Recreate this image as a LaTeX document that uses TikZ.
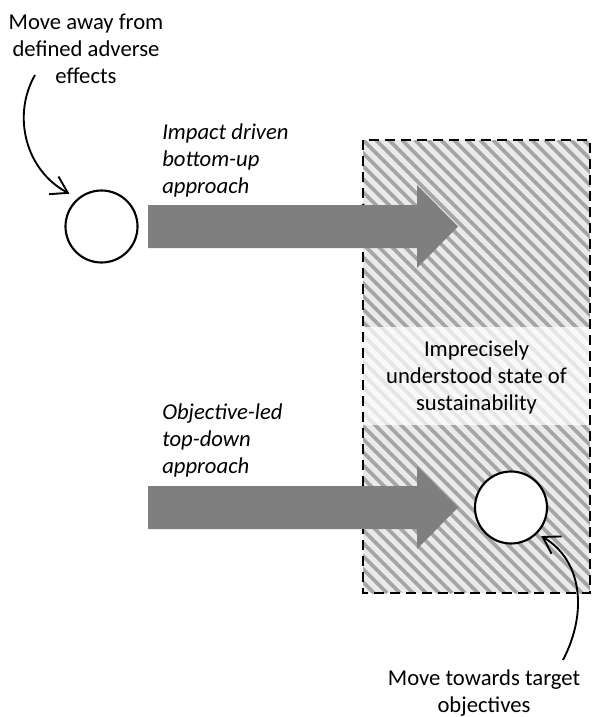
\documentclass[tikz,border=0pt]{standalone}
\usepackage{fontspec}
\setmainfont{Carlito}
\usetikzlibrary{arrows.meta}
\definecolor{arrowgray}{HTML}{7F7F7F}
\definecolor{hatchbg}{HTML}{EAEAEA}
\definecolor{hatchfg}{HTML}{A6A6A6}
\begin{document}
\begin{tikzpicture}[x=0.75pt,y=-0.75pt,
 lbl/.style={font=\fontsize{17}{20.25}\selectfont, align=center, inner sep=0pt},
 ilbl/.style={font=\fontsize{17}{20.25}\selectfont\itshape, align=left, inner sep=0pt, anchor=west},
 ring/.style={circle, draw=black, line width=1.6pt, fill=white, minimum size=54pt, inner sep=0pt},
 bigarrow/.style={fill=arrowgray, draw=none},
 curved/.style={line width=1.4pt, -{Straight Barb[length=12pt,width=15pt,line width=1.4pt]}},
 zone/.style={draw=black, line width=2pt, dash pattern=on 7.5pt off 4.5pt},
]
\useasboundingbox (0,0) rectangle (592,717);
% hatched zone
\begin{scope}
  \clip (363,140) rectangle (590,593);
  \fill[hatchbg] (363,140) rectangle (590,593);
  \foreach \i in {-36,...,18}{
    \draw[hatchfg, line width=2.8pt] ({363+\i*13},140) -- ({363+\i*13+453},593);
  }
  \fill[white, opacity=0.72] (363,327) rectangle (590,425);
\end{scope}
\node[lbl] (state) at (476.5,377) {Imprecisely\\understood state of\\sustainability};
\draw[zone] (363,140) rectangle (590,593);

% circles
\node[ring] (c1) at (101.5,226.5) {};
\node[ring] (c2) at (511,507.5) {};

% big arrows
\fill[bigarrow] (148,205) -- (417,205) -- (417,185) -- (458,226.5) -- (417,268) -- (417,248) -- (148,248) -- cycle;
\fill[bigarrow] (148,486) -- (417,486) -- (417,466) -- (458,507.5) -- (417,549) -- (417,529) -- (148,529) -- cycle;

% labels
\node[lbl] (t1) at (86,49) {Move away from\\defined adverse\\effects};
\node[lbl] (t2) at (484,693) {Move towards target\\objectives};
\node[ilbl] (l1) at (162,160) {Impact driven\\bottom-up\\approach};
\node[ilbl] (l2) at (162,440) {Objective-led\\top-down\\approach};

% curved arrows
\coordinate (s1) at (35,75);
\coordinate (s2) at (563,660);
\draw[curved, shorten >=7pt] (s1) .. controls (12,115) and (25,170) .. (c1.130);
\draw[curved, shorten >=3.5pt] (s2) .. controls (588,612) and (582,560) .. (c2.-45);
\end{tikzpicture}
\end{document}
